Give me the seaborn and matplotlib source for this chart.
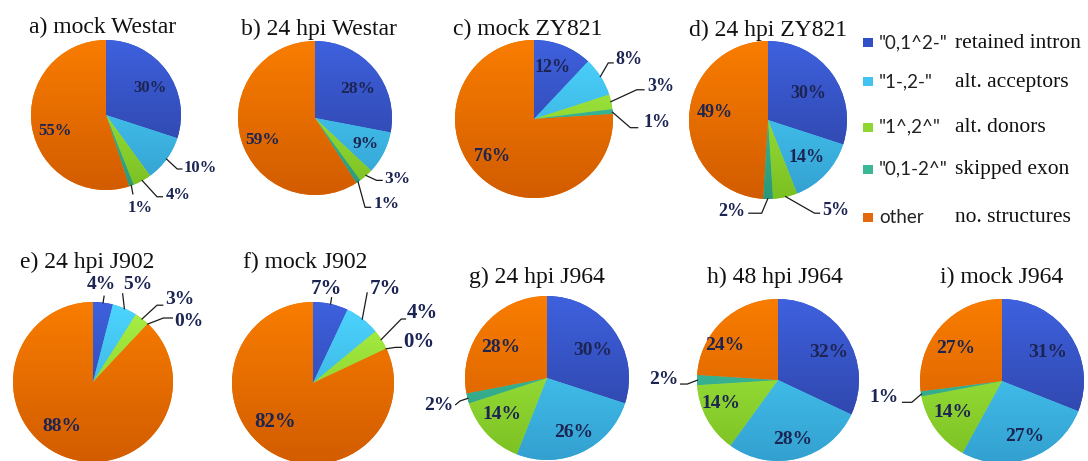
import numpy as np
import matplotlib
matplotlib.use("Agg")
import matplotlib.pyplot as plt
from matplotlib.colors import LinearSegmentedColormap
from matplotlib.patches import Rectangle
import seaborn as sns

# ---- data -------------------------------------------------------------
categories = ['"0,1^2-"', '"1-,2-"', '"1^,2^"', '"0,1-2^"', 'other']
descriptions = ["retained intron", "alt. acceptors", "alt. donors",
                "skipped exon", "no. structures"]

panel_titles = ["a) mock Westar", "b) 24 hpi Westar", "c) mock ZY821",
                "d) 24 hpi ZY821", "e) 24 hpi J902", "f) mock J902",
                "g) 24 hpi J964", "h) 48 hpi J964", "i) mock J964"]

mock_westar = [30, 10, 4, 1, 55]
hpi24_westar = [28, 9, 3, 1, 59]
mock_zy821 = [12, 8, 3, 1, 76]
hpi24_zy821 = [30, 14, 5, 2, 49]
hpi24_j902 = [4, 5, 3, 0, 88]
mock_j902 = [7, 7, 4, 0, 82]
hpi24_j964 = [30, 26, 14, 2, 28]
hpi48_j964 = [32, 28, 14, 2, 24]
mock_j964 = [31, 27, 14, 1, 27]

panel_values = [mock_westar, hpi24_westar, mock_zy821, hpi24_zy821,
                hpi24_j902, mock_j902, hpi24_j964, hpi48_j964, mock_j964]

# ---- style ------------------------------------------------------------
sns.set_theme(style="white")
SERIF = ["Liberation Serif", "DejaVu Serif"]
plt.rcParams["font.family"] = SERIF

W, H = 1088, 461
fig = plt.figure(figsize=(W / 100, H / 100), dpi=100)
fig.patch.set_facecolor("white")

slice_top = ["#3e61de", "#4cd6ff", "#aaf246", "#42caa8", "#f97d00"]
slice_bottom = ["#2b3e9c", "#33a0d0", "#7bc022", "#2c9878", "#d25c00"]
legend_colors = ["#3150c8", "#42c2f0", "#8fd630", "#3cb896", "#e26a0c"]
label_color = "#1c2452"
leader_color = "#1a1a1a"

# pie centre (px), radius (px), title anchor (px), label font size
pie_layout = [
    ((106, 115), 75, (103, 33), 12),
    ((315, 118), 77, (319, 35), 12.5),
    ((534, 119), 79, (528, 35), 13),
    ((768, 120), 79, (768, 36), 13),
    ((93, 382), 80, (87, 268), 14),
    ((313, 383), 81, (305, 268), 15),
    ((547, 378), 82, (537, 283), 14),
    ((778, 380), 81, (775, 283), 14),
    ((1002, 381), 82, (1002, 283), 14),
]

# label placement in pie-radius units: (x, y, ha, leader knee points)
label_layout = [
    [(0.59, 0.36, "center", None),
     (1.04, -0.70, "left", [(0.95, -0.72), (1.02, -0.72)]),
     (0.79, -1.07, "left", [(0.68, -1.09), (0.76, -1.09)]),
     (0.45, -1.24, "center", [(0.36, -1.06)]),
     (-0.68, -0.21, "center", None)],
    [(0.55, 0.38, "center", None),
     (0.66, -0.34, "center", None),
     (0.90, -0.79, "left", [(0.80, -0.81), (0.88, -0.81)]),
     (0.76, -1.12, "left", [(0.65, -1.16), (0.73, -1.16)]),
     (-0.68, -0.29, "center", None)],
    [(0.24, 0.65, "center", None),
     (1.03, 0.75, "left", [(0.94, 0.71), (1.01, 0.71)]),
     (1.43, 0.41, "left", [(1.30, 0.37), (1.40, 0.37)]),
     (1.38, -0.05, "left", [(1.22, -0.11), (1.32, -0.11)]),
     (-0.53, -0.48, "center", None)],
    [(0.51, 0.34, "center", None),
     (0.49, -0.47, "center", None),
     (0.68, -1.14, "left", [(0.59, -1.18), (0.66, -1.18)]),
     (-0.29, -1.16, "right", [(-0.08, -1.18), (-0.25, -1.18)]),
     (-0.67, 0.10, "center", None)],
    [(0.11, 1.22, "center", [(0.14, 1.08)]),
     (0.56, 1.22, "center", [(0.37, 1.11)]),
     (0.90, 1.03, "left", [(0.80, 0.96), (0.88, 0.96)]),
     (1.02, 0.75, "left", [(0.88, 0.80), (1.00, 0.80)]),
     (-0.39, -0.56, "center", None)],
    [(0.17, 1.16, "center", [(0.23, 1.06)]),
     (0.90, 1.16, "center", [(0.67, 1.12)]),
     (1.16, 0.86, "left", [(1.09, 0.79), (1.15, 0.79)]),
     (1.11, 0.51, "left", [(1.02, 0.44), (1.10, 0.44)]),
     (-0.47, -0.48, "center", None)],
    [(0.56, 0.34, "center", None),
     (0.32, -0.67, "center", None),
     (-0.55, -0.44, "center", None),
     (-1.14, -0.33, "right", [(-1.06, -0.28), (-1.12, -0.33)]),
     (-0.57, 0.37, "center", None)],
    [(0.63, 0.34, "center", None),
     (0.18, -0.73, "center", None),
     (-0.71, -0.29, "center", None),
     (-1.23, 0.00, "right", [(-1.12, -0.05), (-1.21, -0.05)]),
     (-0.66, 0.43, "center", None)],
    [(0.56, 0.35, "center", None),
     (0.28, -0.68, "center", None),
     (-0.60, -0.39, "center", None),
     (-1.26, -0.20, "right", [(-1.10, -0.26), (-1.22, -0.26)]),
     (-0.56, 0.40, "center", None)],
]

gradient = np.linspace(1.0, 0.0, 256).reshape(-1, 1)
cmaps = [LinearSegmentedColormap.from_list(f"shade{k}", [b, t])
         for k, (t, b) in enumerate(zip(slice_top, slice_bottom))]

SPAN = 1.8  # axes half-width in pie radii

for vals, title, (centre, r, title_xy, lsize), labels in zip(
        panel_values, panel_titles, pie_layout, label_layout):
    cx, cy = centre
    ax = fig.add_axes([(cx - SPAN * r) / W, 1 - (cy + SPAN * r) / H,
                       2 * SPAN * r / W, 2 * SPAN * r / H])
    ax.set_axis_off()
    wedges, _ = ax.pie(vals, startangle=90, counterclock=False, radius=1,
                       center=(0, 0), wedgeprops=dict(linewidth=0))
    for w, cmap in zip(wedges, cmaps):
        w.set_facecolor(cmap(0.5))
        im = ax.imshow(gradient, cmap=cmap, vmin=0, vmax=1,
                       extent=(-1, 1, -1, 1), origin="upper",
                       aspect="auto", zorder=w.get_zorder() + 0.1,
                       interpolation="bilinear")
        im.set_clip_path(w)
    ax.set_xlim(-SPAN, SPAN)
    ax.set_ylim(-SPAN, SPAN)

    for v, w, (lx, ly, ha, leader) in zip(vals, wedges, labels):
        if leader:
            mid = np.deg2rad((w.theta1 + w.theta2) / 2)
            pts = [(np.cos(mid) * 0.99, np.sin(mid) * 0.99)] + leader
            xs, ys = zip(*pts)
            ax.plot(xs, ys, color=leader_color, lw=0.9, clip_on=False,
                    zorder=5, solid_capstyle="butt")
        ax.text(lx, ly, f"{v}%", ha=ha, va="center", fontsize=lsize,
                fontweight="bold", color=label_color, clip_on=False,
                zorder=6, family=SERIF)

    fig.text(title_xy[0] / W, 1 - title_xy[1] / H, title, ha="center",
             va="baseline", fontsize=17, color="#111111", family=SERIF)

# ---- legend (pixel coordinates) ----------------------------------------
leg = fig.add_axes([0, 0, 1, 1], zorder=-1)
leg.set_xlim(0, W)
leg.set_ylim(H, 0)
leg.set_axis_off()
leg.patch.set_alpha(0)
row_y = [43, 82, 127, 169, 217]
for y, cat, desc, col in zip(row_y, categories, descriptions, legend_colors):
    leg.add_patch(Rectangle((863, y - 4.5), 10, 9, facecolor=col,
                            edgecolor="none"))
    leg.text(879, y, cat, ha="left", va="center", fontsize=13.5,
             color="#222222", family=["Lato", "DejaVu Sans"])
    leg.text(955, y, desc, ha="left", va="center", fontsize=15.5,
             color="#111111", family=SERIF)

fig.savefig("out.png", dpi=100, facecolor="white")
